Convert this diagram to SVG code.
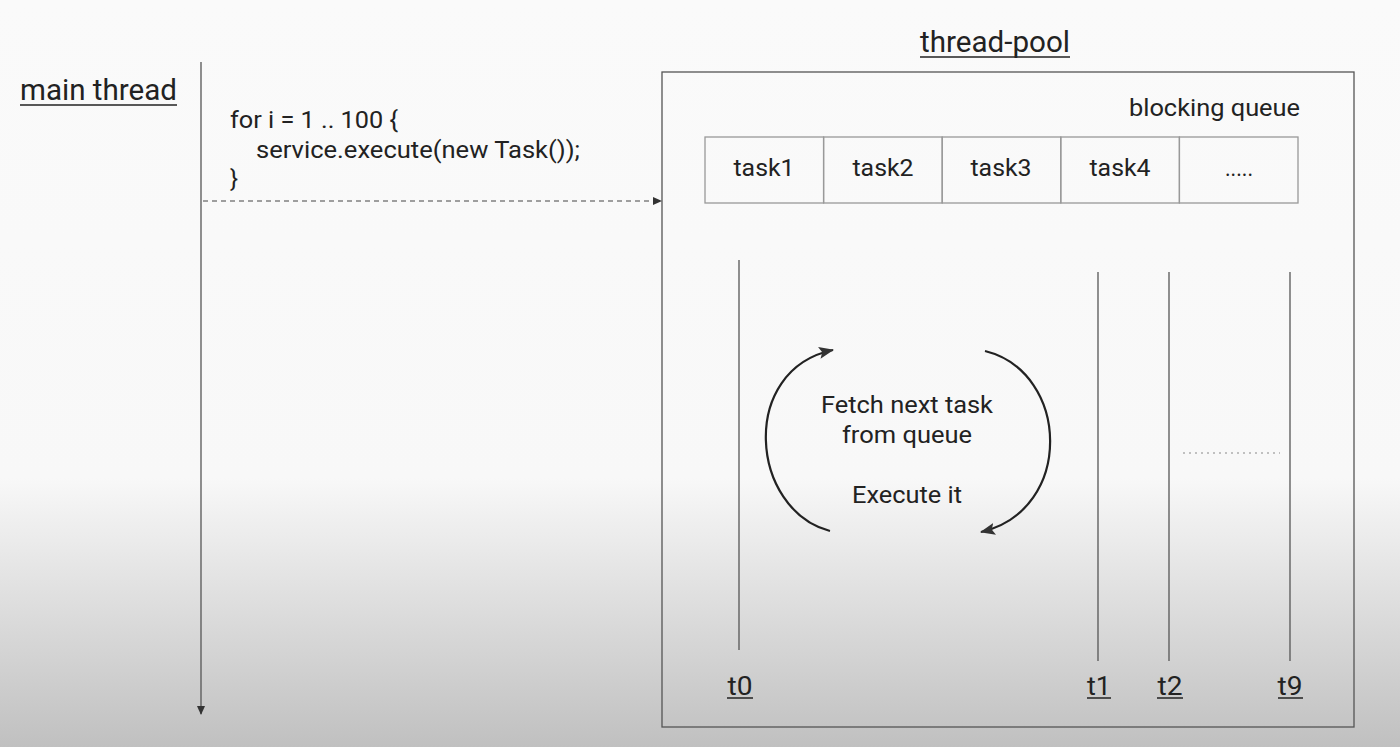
<svg xmlns="http://www.w3.org/2000/svg" width="1400" height="747" viewBox="0 0 1400 747">
<defs>
<linearGradient id="bg" x1="0" y1="0" x2="0" y2="1">
<stop offset="0" stop-color="#fafafa"/>
<stop offset="0.64" stop-color="#f8f8f8"/>
<stop offset="0.82" stop-color="#dcdcdc"/>
<stop offset="1" stop-color="#c0c0c0"/>
</linearGradient>
<marker id="arr" markerWidth="10" markerHeight="10" refX="8" refY="5" orient="auto" markerUnits="userSpaceOnUse">
<path d="M0,1 L9,5 L0,9 z" fill="#333"/>
</marker>
<marker id="arr2" markerWidth="16" markerHeight="12" refX="14" refY="6" orient="auto" markerUnits="userSpaceOnUse">
<path d="M0,0 L15,6 L0,12 L3,6 z" fill="#333"/>
</marker>
</defs>
<style>
.t{font-family:Roboto,"Liberation Sans",sans-serif;fill:#222}
.c{font-size:24px}
.m{font-size:24px}
.tl{font-size:26px}
.h{font-size:30px}
.ln{stroke:#555;stroke-width:1.3;fill:none}
.cell{fill:none;stroke:#999;stroke-width:1.3}
.ul{stroke:#222;stroke-width:1.5}
</style>
<rect width="1400" height="747" fill="url(#bg)"/>

<g id="main-thread">
<text class="t h" x="20" y="100" textLength="157" lengthAdjust="spacingAndGlyphs">main thread</text>
<line class="ul" x1="20" y1="105" x2="177" y2="105"/>
<line class="ln" x1="201" y1="62" x2="201" y2="714" marker-end="url(#arr)"/>
<text class="t c" x="230" y="128" textLength="168" lengthAdjust="spacingAndGlyphs">for i = 1 .. 100 {</text>
<text class="t c" x="256" y="158" textLength="324" lengthAdjust="spacingAndGlyphs">service.execute(new Task());</text>
<text class="t c" x="230" y="187">}</text>
</g>

<g id="thread-pool">
<text class="t h" x="920" y="52" textLength="150" lengthAdjust="spacingAndGlyphs">thread-pool</text>
<line class="ul" x1="920" y1="57" x2="1070" y2="57"/>
<rect x="662" y="72" width="692" height="655" fill="none" stroke="#555" stroke-width="1.3"/>
<text class="t c" x="1300" y="116" text-anchor="end" textLength="171" lengthAdjust="spacingAndGlyphs">blocking queue</text>
</g>

<g id="queue">
<rect class="cell" x="705" y="137" width="118.6" height="66"/>
<rect class="cell" x="823.6" y="137" width="118.6" height="66"/>
<rect class="cell" x="942.2" y="137" width="118.6" height="66"/>
<rect class="cell" x="1060.8" y="137" width="118.6" height="66"/>
<rect class="cell" x="1179.4" y="137" width="118.6" height="66"/>
<text class="t c" x="764" y="176" text-anchor="middle" textLength="61" lengthAdjust="spacingAndGlyphs">task1</text>
<text class="t c" x="883" y="176" text-anchor="middle" textLength="61" lengthAdjust="spacingAndGlyphs">task2</text>
<text class="t c" x="1001" y="176" text-anchor="middle" textLength="61" lengthAdjust="spacingAndGlyphs">task3</text>
<text class="t c" x="1120" y="176" text-anchor="middle" textLength="61" lengthAdjust="spacingAndGlyphs">task4</text>
<text class="t c" x="1239" y="176" text-anchor="middle" textLength="28" lengthAdjust="spacingAndGlyphs">.....</text>
</g>

<g id="t0">
<line class="ln" x1="739" y1="260" x2="739" y2="650"/>
<text class="t tl" x="740" y="695" text-anchor="middle" textLength="25" lengthAdjust="spacingAndGlyphs">t0</text>
<line class="ul" x1="727" y1="698" x2="753" y2="698"/>
</g>
<g id="t1">
<line class="ln" x1="1098" y1="272" x2="1098" y2="661"/>
<text class="t tl" x="1099" y="695" text-anchor="middle" textLength="24" lengthAdjust="spacingAndGlyphs">t1</text>
<line class="ul" x1="1087" y1="698" x2="1111" y2="698"/>
</g>
<g id="t2">
<line class="ln" x1="1169" y1="272" x2="1169" y2="661"/>
<text class="t tl" x="1170" y="695" text-anchor="middle" textLength="25" lengthAdjust="spacingAndGlyphs">t2</text>
<line class="ul" x1="1157" y1="698" x2="1183" y2="698"/>
</g>
<g id="t9">
<line class="ln" x1="1290" y1="272" x2="1290" y2="661"/>
<text class="t tl" x="1290" y="695" text-anchor="middle" textLength="25" lengthAdjust="spacingAndGlyphs">t9</text>
<line class="ul" x1="1278" y1="698" x2="1303" y2="698"/>
</g>
<line x1="1183" y1="453" x2="1280" y2="453" stroke="#888" stroke-width="1.2" stroke-dasharray="2,4"/>

<g id="loop">
<text class="t m" x="907" y="413" text-anchor="middle" textLength="172" lengthAdjust="spacingAndGlyphs">Fetch next task</text>
<text class="t m" x="907" y="443" text-anchor="middle" textLength="130" lengthAdjust="spacingAndGlyphs">from queue</text>
<text class="t m" x="907" y="503" text-anchor="middle" textLength="110" lengthAdjust="spacingAndGlyphs">Execute it</text>
</g>

<g id="connectors">
<line x1="203" y1="201" x2="661" y2="201" stroke="#444" stroke-width="1.2" stroke-dasharray="5,4" marker-end="url(#arr)"/>
<path d="M830,531 C750,510 738,370 833,350" stroke="#222" stroke-width="2.2" fill="none" marker-end="url(#arr2)"/>
<path d="M985,351 C1070,372 1075,510 981,532" stroke="#222" stroke-width="2.2" fill="none" marker-end="url(#arr2)"/>
</g>
</svg>
